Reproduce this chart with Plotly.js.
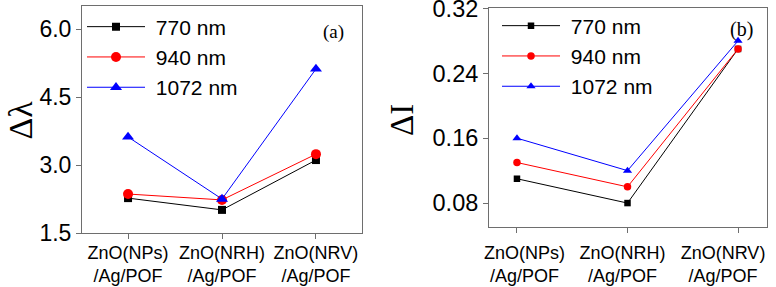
<!DOCTYPE html>
<html>
<head>
<meta charset="utf-8">
<script src="https://cdn.plot.ly/plotly-3.0.1.min.js"></script>
<style>html,body{margin:0;padding:0;background:#fff;}#chart{width:776px;height:287px;}</style>
</head>
<body>
<div id="chart"></div>
<script>
// ---- data ----
const categories = ['NPs', 'NRH', 'NRV'];
const tickLabelsA = ['ZnO(NPs)<br>/Ag/POF', 'ZnO(NRH)<br>/Ag/POF', 'ZnO(NRV)<br>/Ag/POF'];
const tickLabelsB = [
  '&nbsp;&nbsp;&nbsp;&nbsp;&nbsp;&nbsp;&nbsp;&nbsp;&nbsp;ZnO(NPs)<br>&nbsp;&nbsp;&nbsp;&nbsp;&nbsp;&nbsp;&nbsp;&nbsp;&nbsp;/Ag/POF',
  '&nbsp;&nbsp;&nbsp;&nbsp;ZnO(NRH)<br>&nbsp;&nbsp;&nbsp;&nbsp;/Ag/POF',
  'ZnO(NRV)<br>/Ag/POF'
];
const seriesNames = ['770 nm', '940 nm', '1072 nm'];
const dLambda770 = [2.27, 2.01, 3.11];
const dLambda940 = [2.36, 2.23, 3.24];
const dLambda1072 = [3.62, 2.25, 5.12];
const dI770 = [0.11, 0.08, 0.27];
const dI940 = [0.13, 0.10, 0.27];
const dI1072 = [0.16, 0.12, 0.28];

const colors = ['#000000', '#ff0000', '#0000ff'];
const symbols = ['square', 'circle', 'triangle-up'];
const sizesA = [8, 10, 10.5];
const sizesB = [6.5, 7.5, 8];
const valsA = [dLambda770, dLambda940, dLambda1072];
const valsB = [dI770, dI940, dI1072];

const traces = [];
valsA.forEach((v, i) => traces.push({
  x: categories, y: v, name: '&nbsp;' + seriesNames[i], type: 'scatter', mode: 'lines+markers',
  xaxis: 'x', yaxis: 'y', legend: 'legend',
  line: {color: colors[i], width: 1}, marker: {color: colors[i], symbol: symbols[i], size: sizesA[i]}
}));
valsB.forEach((v, i) => traces.push({
  x: categories, y: v, name: '&nbsp;' + seriesNames[i], type: 'scatter', mode: 'lines+markers',
  xaxis: 'x2', yaxis: 'y2', legend: 'legend2',
  line: {color: colors[i], width: 1}, marker: {color: colors[i], symbol: symbols[i], size: sizesB[i]}
}));

const sans = 'Liberation Sans, Arial, sans-serif';
const serif = 'Liberation Serif, Times New Roman, serif';
const axisLine = '#6e6e6e';

const xCommon = {
  type: 'category', showline: true, mirror: true, linecolor: axisLine, linewidth: 1,
  ticks: 'outside', ticklen: 5, tickcolor: axisLine, showgrid: false, zeroline: false,
  tickmode: 'array', tickvals: categories, tickangle: 0, ticklabeloverflow: 'allow',
  tickfont: {family: sans, size: 18, color: '#000'}, fixedrange: true
};
const yCommon = {
  showline: true, mirror: true, linecolor: axisLine, linewidth: 1,
  ticks: 'outside', ticklen: 5, tickcolor: axisLine, showgrid: false, zeroline: false,
  ticklabeloverflow: 'allow',
  tickfont: {family: sans, size: 23, color: '#000'}, fixedrange: true
};

const layout = {
  width: 776, height: 287,
  margin: {l: 0, r: 0, t: 0, b: 0},
  paper_bgcolor: '#fff', plot_bgcolor: '#fff',
  showlegend: true,
  xaxis: Object.assign({}, xCommon, {domain: [82/776, 362/776], range: [-0.49, 2.49], anchor: 'y',
    ticktext: tickLabelsA, ticklabelstandoff: -2}),
  yaxis: Object.assign({}, yCommon, {domain: [1 - 233/287, 1 - 6/287], range: [1.5, 6.51], anchor: 'x',
    tick0: 1.5, dtick: 1.5, tickformat: '.1f'}),
  xaxis2: Object.assign({}, xCommon, {domain: [489/776, 767/776], range: [-0.253, 2.262], anchor: 'y2',
    ticktext: tickLabelsB, ticklabelstandoff: 4, ticklabelshift: -15}),
  yaxis2: Object.assign({}, yCommon, {domain: [1 - 227/287, 1 - 8/287], range: [0.0505, 0.3205], anchor: 'x2',
    tick0: 0, dtick: 0.08, tickformat: '.2f', tickfont: {family: sans, size: 23.5, color: '#000'}}),
  legend: {x: 82/776, y: 1 - 6.5/287, xanchor: 'left', yanchor: 'top', bgcolor: 'rgba(0,0,0,0)',
    font: {family: sans, size: 21, color: '#000'}, itemwidth: 58, tracegroupgap: 0},
  legend2: {x: 497/776, y: 1 - 5.5/287, xanchor: 'left', yanchor: 'top', bgcolor: 'rgba(0,0,0,0)',
    font: {family: sans, size: 21, color: '#000'}, itemwidth: 58, tracegroupgap: 0},
  annotations: [
    {text: 'Δλ', xref: 'paper', yref: 'paper', x: 0, y: 1 - 120/287, xanchor: 'left', yanchor: 'middle',
      textangle: -90, showarrow: false, borderpad: 0, font: {family: serif, size: 34, color: '#000'}},
    {text: 'ΔI', xref: 'paper', yref: 'paper', x: 402/776, y: 1 - 120/287, xanchor: 'center', yanchor: 'middle',
      textangle: -90, showarrow: false, font: {family: serif, size: 33, color: '#000'}},
    {text: '(a)', xref: 'paper', yref: 'paper', x: 333/776, y: 1 - 32/287, xanchor: 'center', yanchor: 'middle',
      showarrow: false, font: {family: serif, size: 19, color: '#000'}},
    {text: '(b)', xref: 'paper', yref: 'paper', x: 741/776, y: 1 - 29/287, xanchor: 'center', yanchor: 'middle',
      showarrow: false, font: {family: serif, size: 20, color: '#000'}}
  ]
};

Plotly.newPlot('chart', traces, layout, {displayModeBar: false, staticPlot: true});
</script>
</body>
</html>
